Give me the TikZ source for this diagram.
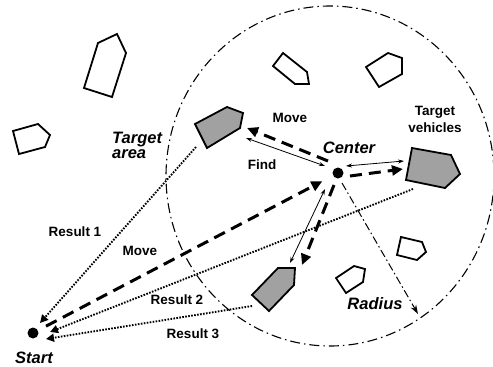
\documentclass[tikz,border=0pt]{standalone}
\usepackage{fontspec}
\setmainfont{Liberation Sans}
\usepackage{tikz}
\usetikzlibrary{arrows.meta}

\tikzset{
  lbl/.style={font=\bfseries\fontsize{13.5}{16}\selectfont, inner sep=0pt},
  ilbl/.style={font=\bfseries\itshape\fontsize{16.5}{15}\selectfont, inner sep=0pt},
  car/.style={draw, line width=1.8pt, line join=miter},
  hit/.style={car, fill=black!37},
  pt/.style={circle, fill=black, inner sep=0pt, minimum size=11pt},
  move/.style={line width=3pt, dash pattern=on 12pt off 7pt, -{Triangle[length=11pt,width=10pt]}},
  find/.style={line width=0.8pt, {Stealth[length=6pt,width=4pt]}-{Stealth[length=6pt,width=4pt]}},
  result/.style={line width=1.9pt, dash pattern=on 1.6pt off 1.4pt, -{Triangle[length=8pt,width=8pt]}}
}

\begin{document}
\begin{tikzpicture}[x=1pt,y=-1pt]
  \useasboundingbox (0,0) rectangle (493,367);

  % search circle
  \draw[line width=1.1pt, dash pattern=on 10pt off 4pt on 1.5pt off 4pt] (330,176) ellipse (164 and 170);

  % vehicles outside the area
  \draw[car] (98,43) -- (117,34) -- (126,53) -- (112,97) -- (84,88) -- cycle;
  \draw[car] (13,131) -- (38,124) -- (50,135) -- (45,147) -- (19,154) -- cycle;
  \draw[car] (273,66) -- (283,53) -- (307,72) -- (309,84) -- (295,84) -- cycle;
  \draw[car] (366,67) -- (388,53) -- (402,58) -- (402,74) -- (379,87) -- cycle;
  \draw[car] (336,278) -- (354,266) -- (365,269) -- (363,282) -- (346,293) -- cycle;
  \draw[car] (397,255) -- (401,237) -- (422,242) -- (426,252) -- (417,260) -- cycle;

  % targets
  \draw[hit] (195,124) -- (227,107) -- (243,113) -- (240,128) -- (207,148) -- cycle;
  \draw[hit] (412,148) -- (451,155) -- (460,174) -- (445,188) -- (406,180) -- cycle;
  \draw[hit] (252,295) -- (278,268) -- (295,268) -- (294,285) -- (269,311) -- cycle;

  \node[pt] (c) at (338,173) {};
  \node[pt] (s) at (33,333) {};

  \coordinate (ta1) at (328,161);  \coordinate (ta2) at (247,128);
  \coordinate (tf1) at (325,166);  \coordinate (tf2) at (246,138);
  \coordinate (tv1) at (350,176);  \coordinate (tv2) at (403,169);
  \coordinate (vf1) at (346,166);  \coordinate (vf2) at (404,161);
  \coordinate (tb1) at (334,185);  \coordinate (tb2) at (302,265);
  \coordinate (bf1) at (325,189);  \coordinate (bf2) at (290,263);
  \coordinate (r1) at (342,183);   \coordinate (r2) at (418,314);
  \coordinate (ra) at (196,147);   \coordinate (ha) at (40,323);
  \coordinate (rv) at (413,189);   \coordinate (hv) at (50,332);
  \coordinate (rb) at (252,306);   \coordinate (hb) at (46,339);

  \draw[move, shorten <=9pt, shorten >=12pt] (s) -- (c);
  \draw[move] (ta1) -- (ta2);
  \draw[move] (tv1) -- (tv2);
  \draw[move] (tb1) -- (tb2);
  \draw[find] (tf1) -- (tf2);
  \draw[find] (vf1) -- (vf2);
  \draw[find] (bf1) -- (bf2);
  \draw[line width=1pt, dash pattern=on 8pt off 3pt on 1.5pt off 3pt, -{Stealth[length=9pt,width=6pt]}] (r1) -- (r2);
  \draw[result] (ra) -- (ha);
  \draw[result] (rv) -- (hv);
  \draw[result] (rb) -- (hb);

  % labels
  \node[ilbl, align=left, anchor=north west] (area) at (112,132) {Target\\area};
  \node[ilbl] (center) at (349,148) {Center};
  \node[ilbl] (start) at (34,358) {Start};
  \node[ilbl] (radius) at (375,304) {Radius};
  \node[lbl] (mv1) at (290,118) {Move};
  \node[lbl] (find) at (262,165) {Find};
  \node[lbl, align=center] (veh) at (435,119) {Target\\[1pt]vehicles};
  \node[lbl] (res1) at (75,232) {Result 1};
  \node[lbl] (mv2) at (140,251) {Move};
  \node[lbl] (res2) at (177,300) {Result 2};
  \node[lbl] (res3) at (193,334) {Result 3};
\end{tikzpicture}
\end{document}
